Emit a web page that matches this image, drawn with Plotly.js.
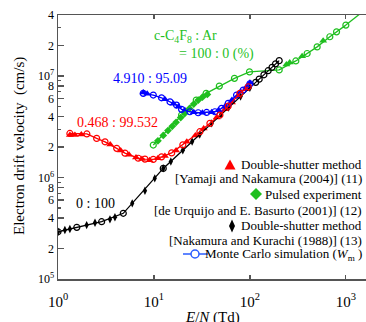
<!DOCTYPE html>
<html><head><meta charset="utf-8">
<script src="https://cdn.plot.ly/plotly-3.0.1.min.js"></script>
<style>html,body{margin:0;padding:0;background:#fff}</style>
</head><body><div id="chart" style="width:366px;height:322px"></div>
<script>
// ---- data (E/N in Td, drift velocity in cm/s) ----
// 0.468 : 99.532
const redExpX = [1.33, 1.5, 1.75, 3.5, 4.5, 5.5, 6.5, 7.5, 9, 11, 13, 17, 22, 27, 33, 45, 55, 65, 75, 90];
const redExpY = [2.62e6, 2.62e6, 2.65e6, 2.12e6, 1.85e6, 1.68e6, 1.58e6, 1.52e6, 1.48e6, 1.55e6, 1.63e6, 1.85e6, 2.25e6, 2.6e6, 3.05e6, 3.9e6, 4.7e6, 5.5e6, 6.3e6, 7.4e6];
const redMCx = [1.33, 2.0, 2.53, 3.09, 4.09, 4.99, 6.86, 8.06, 9.84, 12.0, 15.3, 20, 30.1, 38.3, 48.7, 59.4, 78.7, 96];
const redMCy = [2.72e6, 2.69e6, 2.43e6, 2.25e6, 1.94e6, 1.74e6, 1.55e6, 1.52e6, 1.51e6, 1.60e6, 1.75e6, 2.1e6, 2.83e6, 3.42e6, 4.13e6, 5.06e6, 6.76e6, 7.85e6];
// 4.910 : 95.09
const blueExpX = [7.74, 8.5, 13, 16, 18, 21, 26, 32, 40, 47, 55, 65, 80, 92, 100];
const blueExpY = [6.9e6, 6.7e6, 5.9e6, 5.35e6, 5.0e6, 4.6e6, 4.4e6, 4.35e6, 4.4e6, 4.6e6, 5.0e6, 5.8e6, 7.0e6, 7.8e6, 8.6e6];
const blueMCx = [7.74, 9.84, 12, 14.7, 17.2, 19.4, 23.7, 28.9, 35.4, 43.2, 50.7, 59.4, 72.6, 85.2, 100];
const blueMCy = [6.76e6, 6.5e6, 6.11e6, 5.58e6, 5.18e6, 4.7e6, 4.45e6, 4.35e6, 4.38e6, 4.45e6, 4.8e6, 5.38e6, 6.5e6, 7.28e6, 8.4e6];
// 100 : 0
const greenPulsedX = [11, 12.5, 14, 15.5, 17, 19, 21, 23.5, 26, 29, 32, 36];
const greenPulsedY = [2.3e6, 2.6e6, 2.9e6, 3.2e6, 3.5e6, 3.9e6, 4.3e6, 4.8e6, 5.3e6, 5.8e6, 6.2e6, 6.6e6];
const greenExpX = [240, 260, 350, 580];
const greenExpY = [1.30e7, 1.36e7, 1.57e7, 2.23e7];
const greenMCx = [9.84, 19.4, 27.6, 35, 48, 69, 99, 202, 301, 395, 502, 681, 800, 1000];
const greenMCy = [2.09e6, 4.13e6, 5.8e6, 6.76e6, 7.97e6, 9.5e6, 1.10e7, 1.15e7, 1.41e7, 1.67e7, 1.94e7, 2.44e7, 2.73e7, 3.18e7];
const greenLineEndX = [1000, 1400];
const greenLineEndY = [3.18e7, 4.1e7];
// 0 : 100
const blackExpX = [1.0, 1.18, 1.33, 1.99, 2.43, 3.48, 3.92, 5.94, 8.06, 10.2, 12.5, 15, 20, 25, 30, 40, 50, 60, 80, 100];
const blackExpY = [2.92e5, 3.04e5, 3.11e5, 3.40e5, 3.59e5, 3.87e5, 4.06e5, 5.57e5, 7.41e5, 9.82e5, 1.23e6, 1.44e6, 1.86e6, 2.26e6, 2.66e6, 3.42e6, 4.17e6, 4.89e6, 6.30e6, 7.66e6];
const blackMCx = [1.0, 1.57, 2.85, 4.79, 12.5, 115, 125, 140, 155, 170, 185, 202];
const blackMCy = [2.92e5, 3.23e5, 3.67e5, 4.44e5, 1.23e6, 8.67e6, 9.33e6, 1.03e7, 1.13e7, 1.22e7, 1.32e7, 1.42e7];

const xTickVals = [1, 10, 100, 1000];
const xTickText = ['10<sup>0</sup>', '10<sup>1</sup>', '10<sup>2</sup>', '10<sup>3</sup>'];
const yTickVals = [1e5, 2e5, 4e5, 6e5, 8e5, 1e6, 2e6, 4e6, 6e6, 8e6, 1e7, 2e7, 4e7];
const yTickText = ['10<sup>5</sup>', '2', '4', '6', '8', '10<sup>6</sup>', '2', '4', '6', '8', '10<sup>7</sup>', '2', '4'];
const yMinorVals = [3e5, 5e5, 7e5, 9e5, 3e6, 5e6, 7e6, 9e6, 3e7];

const RED = '#ff0000', BLUE = '#0000ff', GREEN = '#1fbf1f', BLACK = '#000000';
const FONT = 'Liberation Serif, Times New Roman, serif';

function mc(x, y, c) {
  return {x: x, y: y, mode: 'lines+markers', type: 'scatter',
    line: {color: c, width: 1.3},
    marker: {symbol: 'circle-open', size: 6, color: c, line: {width: 1.2, color: c}}, cliponaxis: true};
}
function pts(x, y, c, sym, size) {
  return {x: x, y: y, mode: 'markers', type: 'scatter',
    marker: {symbol: sym, size: size, color: c, line: {width: 0}}};
}

const traces = [
  pts(blackExpX, blackExpY, BLACK, 'diamond-tall', 6),
  pts(redExpX, redExpY, RED, 'triangle-up', 7),
  pts(blueExpX, blueExpY, BLUE, 'triangle-up', 7),
  pts(greenPulsedX, greenPulsedY, GREEN, 'diamond', 6),
  pts(greenExpX, greenExpY, GREEN, 'triangle-up', 7),
  {x: greenLineEndX, y: greenLineEndY, mode: 'lines', type: 'scatter', line: {color: GREEN, width: 1.3}},
  mc(greenMCx, greenMCy, GREEN),
  mc(blackMCx, blackMCy, BLACK),
  mc(blueMCx, blueMCy, BLUE),
  mc(redMCx, redMCy, RED)
];

// pixel -> paper helpers for decoration (plot area: x 58..366, y 15..279)
const L = 58, T = 15, W = 308, H = 264;
const PX = p => (p - L) / W;
const PY = p => (T + H - p) / H;

function label(text, px, py, color, size, anchor) {
  return {text: text, xref: 'paper', yref: 'paper', x: PX(px), y: PY(py),
    xanchor: anchor || 'left', yanchor: 'middle', showarrow: false,
    font: {family: FONT, size: size || 14, color: color}};
}

const annotations = [
  label('c-C<sub>4</sub>F<sub>8</sub> : Ar', 152, 36, GREEN),
  label('= 100 : 0 (%)', 177, 54, GREEN),
  label('4.910 : 95.09', 111, 78, BLUE),
  label('0.468 : 99.532', 75, 122, RED),
  label('0 : 100', 74, 204, BLACK),
  label('Double-shutter method', 364, 164, BLACK, 13, 'right'),
  label('[Yamaji and Nakamura (2004)] (11)', 364, 178, BLACK, 13, 'right'),
  label('Pulsed experiment', 364, 194, BLACK, 13, 'right'),
  label('[de Urquijo and E. Basurto (2001)] (12)', 364, 210, BLACK, 13, 'right'),
  label('Double-shutter method', 364, 225, BLACK, 13, 'right'),
  label('[Nakamura and Kurachi (1988)] (13)', 364, 240, BLACK, 13, 'right'),
  label('Monte Carlo simulation (<i>W</i><sub>m</sub> )', 364, 254, BLACK, 13, 'right'),
  {text: '<i>E</i>/<i>N</i> (Td)', xref: 'paper', yref: 'paper', x: PX(212), y: PY(317),
   xanchor: 'center', yanchor: 'middle', showarrow: false, font: {family: FONT, size: 15, color: '#000'}},
  {text: 'Electron drift velocity  (cm/s)', xref: 'paper', yref: 'paper', x: PX(19), y: PY(146),
   xanchor: 'center', yanchor: 'middle', textangle: -90, showarrow: false, font: {family: FONT, size: 15, color: '#000'}}
];

function poly(points, color) {
  const d = points.map((p, i) => (i ? 'L' : 'M') + PX(p[0]) + ',' + PY(p[1])).join(' ') + ' Z';
  return {type: 'path', xref: 'paper', yref: 'paper', path: d, fillcolor: color, line: {width: 0}};
}
const shapes = [
  poly([[224.5, 169.5], [235.5, 169.5], [230, 159.5]], RED),
  poly([[250, 194], [256, 188], [262, 194], [256, 200]], GREEN),
  poly([[229, 226], [232, 219.5], [235, 226], [232, 232.5]], BLACK),
  {type: 'line', xref: 'paper', yref: 'paper', x0: PX(183), x1: PX(208), y0: PY(254), y1: PY(254), line: {color: '#2a5cff', width: 1.5}},
  {type: 'circle', xref: 'paper', yref: 'paper', x0: PX(191), x1: PX(199), y0: PY(258), y1: PY(250), fillcolor: '#fff', line: {color: '#2a5cff', width: 1.5}}
];

const layout = {
  width: 366, height: 322,
  margin: {l: 58, r: 0, t: 15, b: 43},
  paper_bgcolor: '#fff', plot_bgcolor: '#fff',
  showlegend: false,
  font: {family: FONT, size: 14, color: '#000'},
  xaxis: {type: 'log', range: [0, 3.21], showgrid: false, zeroline: false,
    showline: true, linecolor: '#555', linewidth: 1.5, mirror: 'ticks',
    ticks: 'inside', ticklen: 4, tickcolor: '#555', tickwidth: 1.2,
    tickvals: xTickVals, ticktext: xTickText, ticklabelstandoff: 8,
    tickfont: {family: FONT, size: 15, color: '#000'}},
  yaxis: {type: 'log', range: [5, 7.602], showgrid: false, zeroline: false,
    showline: true, linecolor: '#555', linewidth: 1.5, mirror: false,
    ticks: 'inside', ticklen: 6, tickcolor: '#555', tickwidth: 1.2,
    tickvals: yTickVals, ticktext: yTickText,
    tickfont: {family: FONT, size: 12, color: '#000'},
    minor: {tickvals: yMinorVals, ticks: 'inside', ticklen: 3, tickcolor: '#555', showgrid: false}},
  annotations: annotations,
  shapes: shapes
};

Plotly.newPlot('chart', traces, layout, {staticPlot: true, displayModeBar: false});
</script>
</body></html>
